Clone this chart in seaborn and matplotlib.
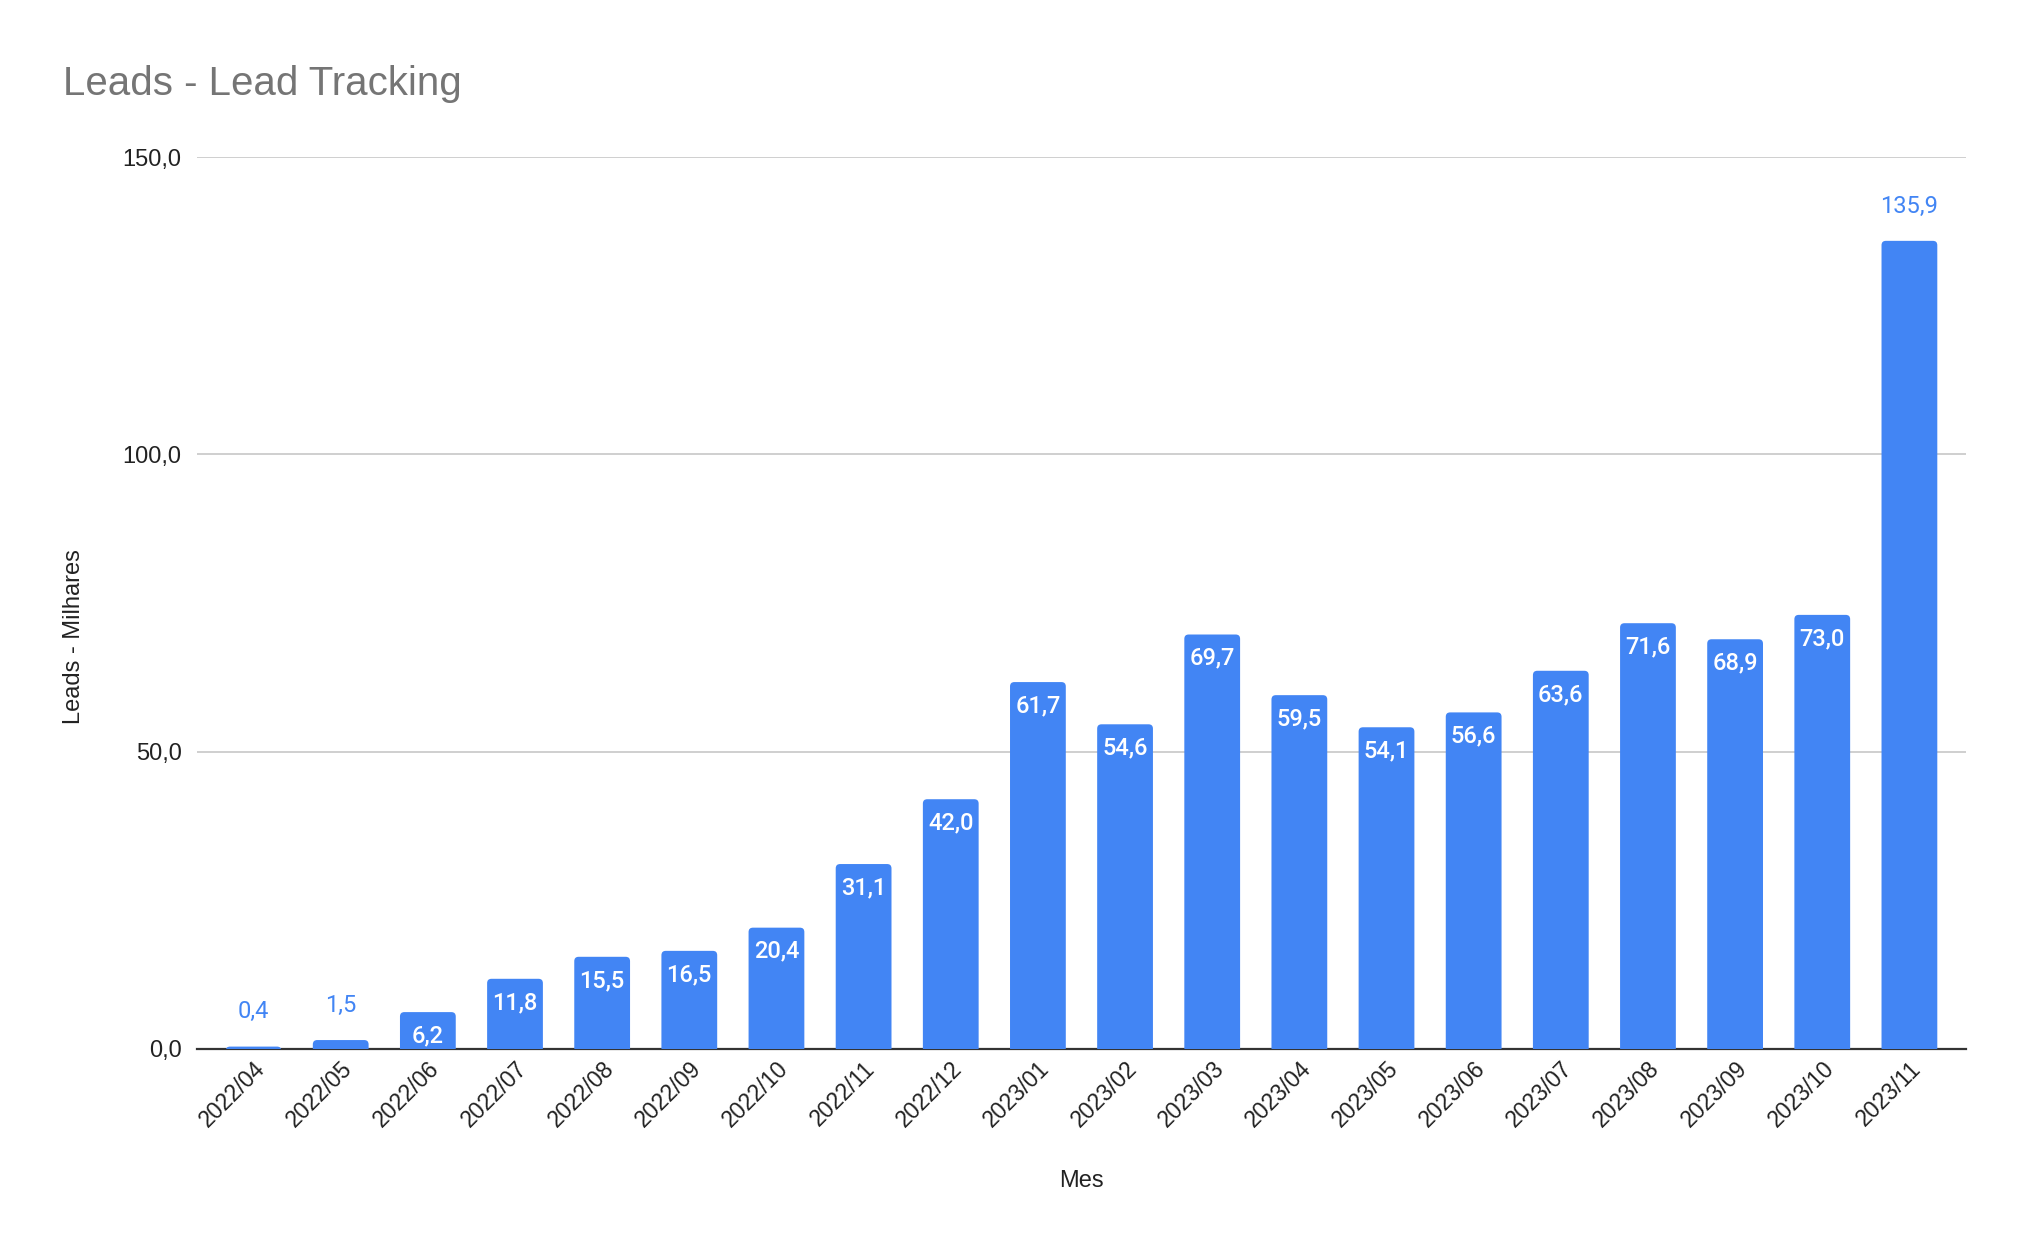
import pandas as pd
import matplotlib
matplotlib.use("Agg")
import matplotlib.pyplot as plt
from matplotlib.patches import FancyBboxPatch
import seaborn as sns

# data
meses = ["2022/04", "2022/05", "2022/06", "2022/07", "2022/08", "2022/09", "2022/10",
         "2022/11", "2022/12", "2023/01", "2023/02", "2023/03", "2023/04", "2023/05",
         "2023/06", "2023/07", "2023/08", "2023/09", "2023/10", "2023/11"]
leads = [0.4, 1.5, 6.2, 11.8, 15.5, 16.5, 20.4, 31.1, 42.0, 61.7, 54.6, 69.7,
         59.5, 54.1, 56.6, 63.6, 71.6, 68.9, 73.0, 135.9]
y_ticks = [0, 50, 100, 150]

df = pd.DataFrame({"Mes": meses, "Leads": leads})

BLUE = "#4285F4"

sns.set_theme(style="white")
plt.rcParams["font.family"] = ["Liberation Sans", "DejaVu Sans"]

fig = plt.figure(figsize=(20.3, 12.54), dpi=100)
ax = fig.add_axes([0.097, 0.1635, 0.8715, 0.7113])

sns.barplot(data=df, x="Mes", y="Leads", color=BLUE, saturation=1, width=0.64, ax=ax, zorder=3)

ax.set_ylim(0, 150)
ax.set_xlim(-0.65, len(meses) - 0.35)

# rounded tops like the reference (bottom pushed under the axis so it gets clipped)
for p in list(ax.patches):
    x, y0, w, h = p.get_x(), p.get_y(), p.get_width(), p.get_height()
    rb = FancyBboxPatch((x, y0 - 0.8), w, h + 0.8,
                        boxstyle="round,pad=0,rounding_size=0.05",
                        mutation_aspect=14.6, facecolor=BLUE, edgecolor="none",
                        zorder=3)
    ax.add_patch(rb)
    p.set_visible(False)

ax.set_yticks(y_ticks)
ax.set_yticklabels([f"{v:.1f}".replace(".", ",") for v in y_ticks], fontsize=17, color="#222222")
ax.yaxis.grid(True, color="#CCCCCC", linewidth=1.3, zorder=0)
ax.xaxis.grid(False)
ax.tick_params(axis="both", length=0)
ax.tick_params(axis="y", pad=11)
ax.tick_params(axis="x", pad=6)
for lab in ax.get_xticklabels():
    lab.set_rotation(45)
    lab.set_ha("right")
    lab.set_va("top")
    lab.set_rotation_mode("anchor")
    lab.set_fontsize(16.5)
    lab.set_color("#222222")

for s in ["top", "right", "left"]:
    ax.spines[s].set_visible(False)
ax.spines["bottom"].set_color("#333333")
ax.spines["bottom"].set_linewidth(1.6)
ax.spines["bottom"].set_zorder(2)

# data labels: white inside the bar, blue above for tiny bars and the tallest one
vmax = max(leads)
for i, v in enumerate(leads):
    txt = f"{v:.1f}".replace(".", ",")
    if v < 5 or v == vmax:
        ax.annotate(txt, (i, v), xytext=(0, 25), textcoords="offset points",
                    ha="center", va="center", fontsize=17, color=BLUE,
                    family=["Roboto", "DejaVu Sans"], zorder=5)
    else:
        ax.annotate(txt, (i, v), xytext=(0, -17), textcoords="offset points",
                    ha="center", va="center", fontsize=17, color="white",
                    fontweight="medium", family=["Roboto", "DejaVu Sans"], zorder=5)

ax.set_xlabel("Mes", fontsize=17, color="#222222")
ax.set_ylabel("Leads - Milhares", fontsize=17, color="#222222")
ax.xaxis.set_label_coords(0.5, -0.148)
ax.xaxis.label.set_va("center")
ax.yaxis.set_label_coords(-0.0695, 0.462)
ax.yaxis.label.set_va("center")

fig.text(63 / 2030, 1 - 84 / 1254, "Leads - Lead Tracking", fontsize=29,
         color="#757575", ha="left", va="center")

fig.savefig("out.png", dpi=100, facecolor="white")
